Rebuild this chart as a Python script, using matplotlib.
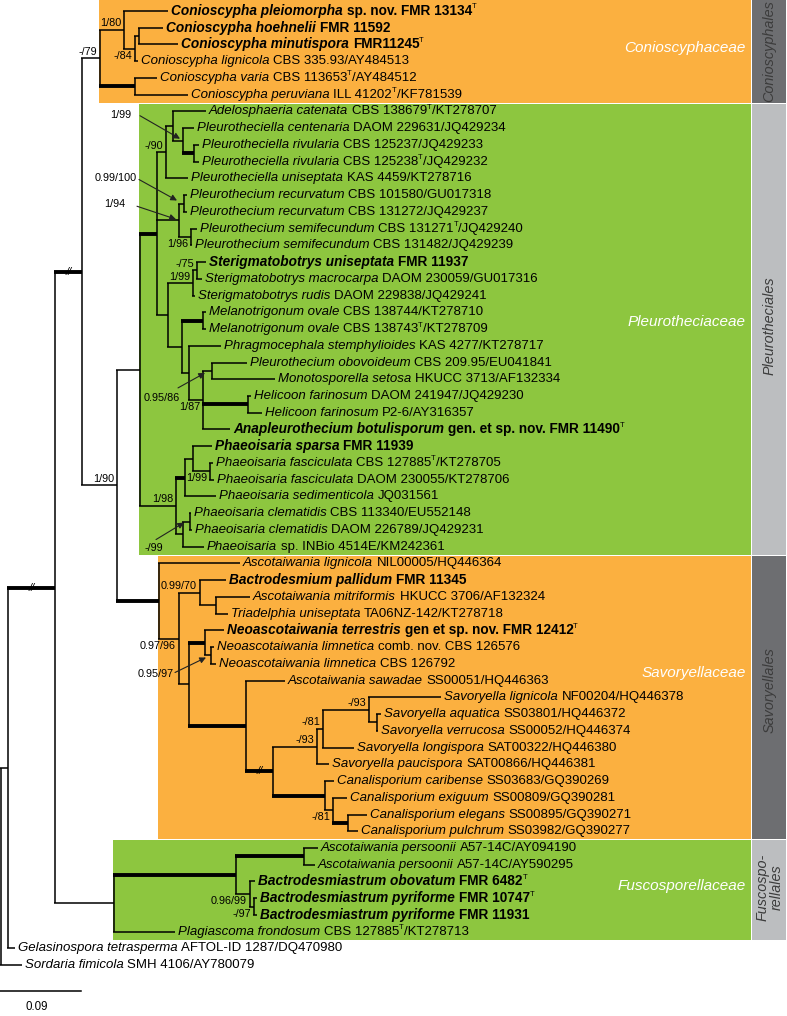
import matplotlib
matplotlib.use('Agg')
import matplotlib.pyplot as plt

plt.rcParams['font.family'] = ['Liberation Sans', 'DejaVu Sans']

# ---------------- data ----------------
leaf_species = [
    "Conioscypha pleiomorpha", "Conioscypha hoehnelii", "Conioscypha minutispora",
    "Conioscypha lignicola", "Conioscypha varia", "Conioscypha peruviana",
    "Adelosphaeria catenata", "Pleurotheciella centenaria", "Pleurotheciella rivularia",
    "Pleurotheciella rivularia", "Pleurotheciella uniseptata", "Pleurothecium recurvatum",
    "Pleurothecium recurvatum", "Pleurothecium semifecundum", "Pleurothecium semifecundum",
    "Sterigmatobotrys uniseptata", "Sterigmatobotrys macrocarpa", "Sterigmatobotrys rudis",
    "Melanotrigonum ovale", "Melanotrigonum ovale", "Phragmocephala stemphylioides",
    "Pleurothecium obovoideum", "Monotosporella setosa", "Helicoon farinosum",
    "Helicoon farinosum", "Anapleurothecium botulisporum", "Phaeoisaria sparsa",
    "Phaeoisaria fasciculata", "Phaeoisaria fasciculata", "Phaeoisaria sedimenticola",
    "Phaeoisaria clematidis", "Phaeoisaria clematidis", "Phaeoisaria",
    "Ascotaiwania lignicola", "Bactrodesmium pallidum", "Ascotaiwania mitriformis",
    "Triadelphia uniseptata", "Neoascotaiwania terrestris", "Neoascotaiwania limnetica",
    "Neoascotaiwania limnetica", "Ascotaiwania sawadae", "Savoryella lignicola",
    "Savoryella aquatica", "Savoryella verrucosa", "Savoryella longispora",
    "Savoryella paucispora", "Canalisporium caribense", "Canalisporium exiguum",
    "Canalisporium elegans", "Canalisporium pulchrum", "Ascotaiwania persoonii",
    "Ascotaiwania persoonii", "Bactrodesmiastrum obovatum", "Bactrodesmiastrum pyriforme",
    "Bactrodesmiastrum pyriforme", "Plagiascoma frondosum", "Gelasinospora tetrasperma",
    "Sordaria fimicola",
]
leaf_strain = [
    "sp. nov. FMR 13134^T", "FMR 11592", "FMR11245^T",
    "CBS 335.93/AY484513", "CBS 113653^T/AY484512", "ILL 41202^T/KF781539",
    "CBS 138679^T/KT278707", "DAOM 229631/JQ429234", "CBS 125237/JQ429233",
    "CBS 125238^T/JQ429232", "KAS 4459/KT278716", "CBS 101580/GU017318",
    "CBS 131272/JQ429237", "CBS 131271^T/JQ429240", "CBS 131482/JQ429239",
    "FMR 11937", "DAOM 230059/GU017316", "DAOM 229838/JQ429241",
    "CBS 138744/KT278710", "CBS 138743^T/KT278709", "KAS 4277/KT278717",
    "CBS 209.95/EU041841", "HKUCC 3713/AF132334", "DAOM 241947/JQ429230",
    "P2-6/AY316357", "gen. et sp. nov. FMR 11490^T", "FMR 11939",
    "CBS 127885^T/KT278705", "DAOM 230055/KT278706", "JQ031561",
    "CBS 113340/EU552148", "DAOM 226789/JQ429231", "sp. INBio 4514E/KM242361",
    "NIL00005/HQ446364", "FMR 11345", "HKUCC 3706/AF132324",
    "TA06NZ-142/KT278718", "gen et sp. nov. FMR 12412^T", "comb. nov. CBS 126576",
    "CBS 126792", "SS00051/HQ446363", "NF00204/HQ446378",
    "SS03801/HQ446372", "SS00052/HQ446374", "SAT00322/HQ446380",
    "SAT00866/HQ446381", "SS03683/GQ390269", "SS00809/GQ390281",
    "SS00895/GQ390271", "SS03982/GQ390277", "A57-14C/AY094190",
    "A57-14C/AY590295", "FMR 6482^T", "FMR 10747^T",
    "FMR 11931", "CBS 127885^T/KT278713", "AFTOL-ID 1287/DQ470980",
    "SMH 4106/AY780079",
]
bold_leaves = [0, 1, 2, 15, 25, 26, 34, 37, 52, 53, 54]
# tip depth of each leaf (tree x units, 81 units = 0.09 substitutions/site)
leaf_tip = [
    168, 163, 178, 138, 157, 188,
    206, 194, 199, 199, 188, 187, 187, 197, 192,
    206, 202, 195, 206, 206, 221, 247, 275, 251, 262, 230,
    212, 213, 214, 216, 191, 192, 204,
    240, 226, 250, 228, 224, 214, 216, 285,
    441, 381, 378, 354, 329, 334, 347, 367, 358,
    318, 315, 255, 257, 257, 175, 15, 22,
]

# internal nodes: name, depth, children (int = leaf index, str = node)
node_name = ["ROOT", "N1", "N2", "N3", "N4",
             "A", "B", "E", "D", "C",
             "P0", "P1", "Q", "Q2", "Q3", "Q4", "R", "R1", "R2",
             "S", "T", "T2", "U", "Mel", "V", "W", "X", "H",
             "Y", "Y1", "Y3", "F2", "Y2", "Z",
             "SA", "SB", "SC", "SE", "SD", "SF", "SG", "SH", "SI",
             "SJ", "SL", "SM", "SN", "SK", "SO", "SP",
             "FA", "FB", "FC", "FD", "FE"]
node_depth = [1, 8, 55, 82, 117,
              100, 124, 135, 139, 135,
              140, 157, 166, 173, 183, 194, 179, 184, 191,
              168, 193, 197, 182, 203, 189, 203, 212, 248,
              176, 185, 193, 210, 183, 190,
              159, 179, 200, 216, 189, 205, 211, 246, 273,
              317, 323, 369, 377, 325, 333, 348,
              114, 236, 304, 250, 254]
node_children = [["N1", 57], ["N2", 56], ["N3", "FA"], ["A", "N4"], ["P0", "SA"],
                 ["B", "C"], [0, "E"], ["D", 3], [1, 2], [4, 5],
                 ["P1", "Y"], ["Q", "R", "S"], ["Q2", 10], [6, "Q3"], [7, "Q4"], [8, 9],
                 ["R1", "R2"], [11, 12], [13, 14],
                 ["T", "U"], ["T2", 17], [15, 16], ["Mel", "V"], [18, 19], [20, "W"],
                 ["X", "H", 25], [21, 22], [23, 24],
                 ["Y1", "Y2"], ["Y3", 29], [26, "F2"], [27, 28], ["Z", 32], [30, 31],
                 [33, "SB"], ["SC", "SD"], [34, "SE"], [35, 36], ["SF", "SH"], [37, "SG"],
                 [38, 39], [40, "SI"], ["SJ", "SK"], ["SL", 45], ["SM", 44], [41, "SN"],
                 [42, 43], [46, "SO"], [47, "SP"], [48, 49],
                 ["FB", 55], ["FC", "FD"], [50, 51], [52, "FE"], [53, 54]]
thick_edges = ["C", "Q4", "P1", "Mel", "H", "Y1", "SA", "SF", "SH", "SI", "SK", "SP",
               "FB", "FC", "N2", "N3"]
broken_edges = ["N2", "N3", "SI"]

support_node = ["B", "A", "E", "Q", "R2", "T2", "T", "W", "N4", "F2", "Y",
                "SC", "SB", "SM", "SL", "SJ", "SO", "FD", "FE"]
support_text = ["1/80", "-/79", "-/84", "-/90", "1/96", "-/75", "1/99", "1/87", "1/90",
                "1/99", "1/98", "0.99/70", "0.97/96", "-/93", "-/81", "-/93", "-/81",
                "0.96/99", "-/97"]
support_below = [False, False, True, False, True, False, False, True, False,
                 True, False, False, True, False, False, False, True, True, True]

arrow_node = ["Q3", "R1", "R", "X", "Z", "SG"]
arrow_text = ["1/99", "0.99/100", "1/94", "0.95/86", "-/99", "0.95/97"]

families = ["Conioscyphaceae", "Pleurotheciaceae", "Savoryellaceae", "Fuscosporellaceae"]
family_first = [0, 6, 33, 50]
family_last = [5, 32, 49, 55]
family_node = ["A", "P0", "SA", "FA"]
orders = ["Conioscyphales", "Pleurotheciales", "Savoryellales", "Fuscospo-\nrellales"]
scale_value = 0.09
scale_units = 81  # tree units for 0.09

# ---------------- style ----------------
W, H = 787, 1016
ORANGE = '#FBB040'
GREEN = '#8DC63F'
DGRAY = '#6D6E71'
LGRAY = '#BCBEC0'
LW = 1.1
LW_THICK = 2.8
FS_LEAF = 9.5
FS_BOLD = 9.8
FS_SUP = 7.8
Y0, DY = 11.0, 16.74
BOX_RIGHT = 751
BAR_RIGHT = 786
family_label_y = [48, 322, 673, 886]
order_label_y = [51, 326, 690, 887]
# arrow label layout: (label right dx, label center dy, arrow start dx, dy, arrow end dx, dy)
arrow_layout = [(-52, -26, -43, -25, -3, -2), (-47, -26, -45, -24, -7, -3),
                (-54, -16, -42, -14, -3, -1), (-32, 27, -34, 17, -7, 2),
                (-27, 26, -34, 18, -6, 1), (-37, 19, -36, 17, -5, 2)]

fig = plt.figure(figsize=(W / 100, H / 100), dpi=100)
ax = fig.add_axes([0, 0, 1, 1])
ax.set_xlim(0, W)
ax.set_ylim(H, 0)
ax.axis('off')
renderer = fig.canvas.get_renderer()

leaf_y = [Y0 + i * DY for i in range(len(leaf_species))]
nodes = {n: (d, c) for n, d, c in zip(node_name, node_depth, node_children)}
pos = {}


def place(n):
    if isinstance(n, int):
        return leaf_tip[n], leaf_y[n]
    if n in pos:
        return pos[n]
    d, ch = nodes[n]
    ys = [place(c)[1] for c in ch]
    pos[n] = (d, (ys[0] + ys[-1]) / 2)
    return pos[n]


place("ROOT")

# family boxes and order bars
for k, (fam, f0, f1, fn, col, bcol, order) in enumerate(zip(
        families, family_first, family_last, family_node,
        [ORANGE, GREEN, ORANGE, GREEN], [DGRAY, LGRAY, DGRAY, LGRAY], orders)):
    top = 0 if f0 == 0 else leaf_y[f0] - DY / 2 + 0.5
    bot = leaf_y[f1] + DY / 2 - 0.5
    left = pos[fn][0] - 1
    ax.add_patch(plt.Rectangle((left, top), BOX_RIGHT - left, bot - top, color=col, lw=0, zorder=0))
    ax.add_patch(plt.Rectangle((BOX_RIGHT + 1, top), BAR_RIGHT - BOX_RIGHT - 1, bot - top,
                               color=bcol, lw=0, zorder=0))
    ax.text(BOX_RIGHT - 5, family_label_y[k], fam, color='white', fontsize=11,
            fontstyle='italic', ha='right', va='center')
    ax.text((BOX_RIGHT + BAR_RIGHT) / 2 + 1, order_label_y[k], order, rotation=90,
            fontsize=10.4, fontstyle='italic', color='#3C3C3C', ha='center', va='center',
            linespacing=1.05, multialignment='center')

# branches
for n in node_name:
    d, ch = nodes[n]
    x, y = pos[n]
    ys = [place(c)[1] for c in ch]
    ax.plot([x, x], [ys[0], ys[-1]], color='black', lw=LW, solid_capstyle='butt', zorder=3)
    for c in ch:
        cx, cy = place(c)
        thick = isinstance(c, str) and c in thick_edges
        ax.plot([x - LW / 2, cx], [cy, cy], color='black',
                lw=LW_THICK if thick else LW, solid_capstyle='butt', zorder=3)
        if isinstance(c, str) and c in broken_edges:
            ax.text((x + cx) / 2, cy, "//", fontsize=8, ha='center', va='center',
                    fontstyle='italic', zorder=4)


def draw_seg(x, y, s, style, weight, fs, dy=0):
    t = ax.text(x, y + dy, s, fontsize=fs, fontstyle=style, fontweight=weight,
                ha='left', va='center', zorder=5)
    return x + t.get_window_extent(renderer=renderer).width


# leaf labels
for i, (sp, st) in enumerate(zip(leaf_species, leaf_strain)):
    bold = i in bold_leaves
    weight = 'bold' if bold else 'normal'
    fs = FS_BOLD if bold else FS_LEAF
    x = leaf_tip[i] + 3
    y = leaf_y[i]
    x = draw_seg(x, y, sp, 'italic', weight, fs) + fs * 100 / 72 * 0.278
    parts = st.split('^T')
    for k, p in enumerate(parts):
        if p:
            x = draw_seg(x, y, p, 'normal', weight, fs)
        if k < len(parts) - 1:
            x = draw_seg(x, y, 'T', 'normal', 'normal', 5.5, dy=-4)

# support values
for n, s, below in zip(support_node, support_text, support_below):
    x, y = pos[n]
    ax.text(x - 3, y + 2 if below else y - 1.5, s, fontsize=FS_SUP, ha='right',
            va='top' if below else 'bottom', zorder=5)

for n, s, lay in zip(arrow_node, arrow_text, arrow_layout):
    x, y = pos[n]
    ax.text(x + lay[0], y + lay[1], s, fontsize=FS_SUP, ha='right', va='center', zorder=5)
    ax.annotate("", xy=(x + lay[4], y + lay[5]), xytext=(x + lay[2], y + lay[3]),
                arrowprops=dict(arrowstyle='-|>', color='#222222', lw=0.8,
                                mutation_scale=9, shrinkA=0, shrinkB=0), zorder=6)

# scale bar
ax.plot([0, scale_units], [991, 991], color='black', lw=LW)
ax.text(scale_units * 0.45, 1007, f"{scale_value:g}", fontsize=FS_SUP + 0.5, ha='center', va='center')

fig.savefig('out.png', dpi=100)
